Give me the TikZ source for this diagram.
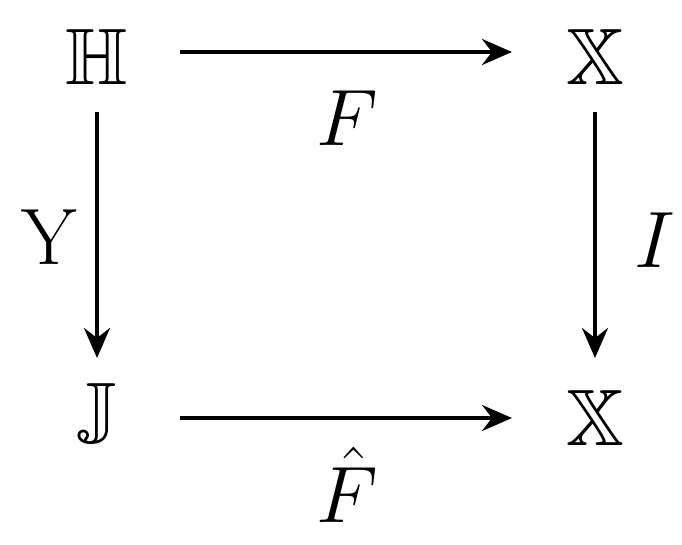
\documentclass[tikz,border=0pt]{standalone}
\usepackage{amssymb}
\usepackage{fix-cm}
\usetikzlibrary{arrows.meta}
\begin{document}
\begin{tikzpicture}[x=0.5pt,y=-0.5pt,
  obj/.style={font=\fontsize{40}{44}\selectfont,inner sep=0pt},
  lbl/.style={font=\fontsize{40}{44}\selectfont,inner sep=0pt},
  arr/.style={line width=2pt,-{Stealth[length=15pt,width=13pt,inset=5pt]}}]
\useasboundingbox (0,0) rectangle (682,545);
\node[obj] (H) at (97,57) {$\mathbb{H}$};
\node[obj] (X1) at (595,57) {$\mathbb{X}$};
\node[obj] (J) at (97,418) {$\mathbb{J}$};
\node[obj] (X2) at (595,418) {$\mathbb{X}$};
\coordinate (a1) at (180,52); \coordinate (b1) at (512,52);
\coordinate (a2) at (97,112); \coordinate (b2) at (97,358);
\coordinate (a3) at (595,112); \coordinate (b3) at (595,358);
\coordinate (a4) at (180,418); \coordinate (b4) at (512,418);
\draw[arr] (a1) -- (b1);
\draw[arr] (a2) -- (b2);
\draw[arr] (a3) -- (b3);
\draw[arr] (a4) -- (b4);
\node[lbl] (F) at (347,118) {$F$};
\node[lbl] (Y) at (50,237) {$\mathrm{Y}$};
\node[lbl] (I) at (655,240) {$I$};
\node[lbl] (Fh) at (347,485) {$\hat{F}$};
\end{tikzpicture}
\end{document}
